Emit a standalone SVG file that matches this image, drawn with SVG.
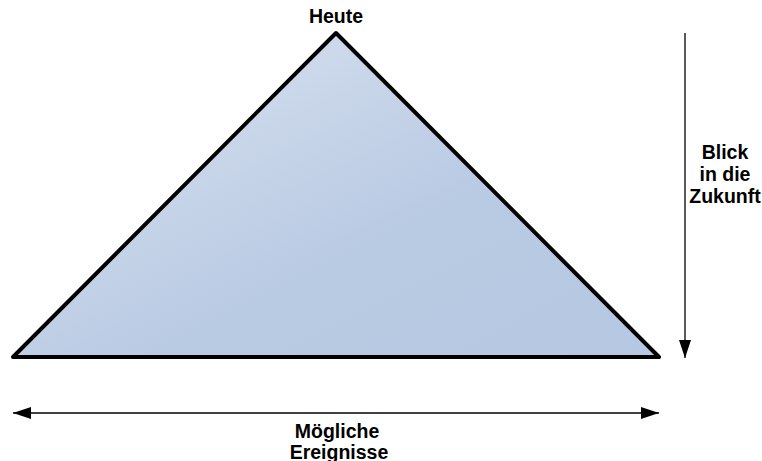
<svg xmlns="http://www.w3.org/2000/svg" width="762" height="461" viewBox="0 0 762 461">
<style>
text{font-family:"Liberation Sans",Arial,sans-serif;font-weight:bold;font-size:19.5px;fill:#000;text-anchor:middle}
.ln{stroke:#000;stroke-width:1.3;fill:none}
</style>
<defs>
<linearGradient id="g" x1="0" y1="0" x2="1" y2="1">
<stop offset="0" stop-color="#dde5f1"/>
<stop offset="0.6" stop-color="#b9cae3"/>
<stop offset="1" stop-color="#b6c7e1"/>
</linearGradient>
<marker id="ah" viewBox="0 0 18 12" refX="18" refY="6" markerWidth="18" markerHeight="12" markerUnits="userSpaceOnUse" orient="auto-start-reverse">
<path d="M0,0 L18,6 L0,12 Z" fill="#000"/>
</marker>
</defs>
<g id="triangle">
<polygon points="336,33 659,357 13,357" fill="url(#g)" stroke="#000" stroke-width="4" stroke-linejoin="round"/>
</g>
<g id="connectors">
<line class="ln" x1="685" y1="33" x2="685" y2="358" marker-end="url(#ah)"/>
<line class="ln" x1="13" y1="413" x2="659" y2="413" marker-start="url(#ah)" marker-end="url(#ah)"/>
</g>
<g id="label-heute"><text x="336" y="23">Heute</text></g>
<g id="label-blick">
<text x="725" y="159">Blick</text>
<text x="725" y="181">in die</text>
<text x="725" y="203">Zukunft</text>
</g>
<g id="label-ereignisse">
<text x="337" y="438">Mögliche</text>
<text x="339" y="459">Ereignisse</text>
</g>
</svg>
